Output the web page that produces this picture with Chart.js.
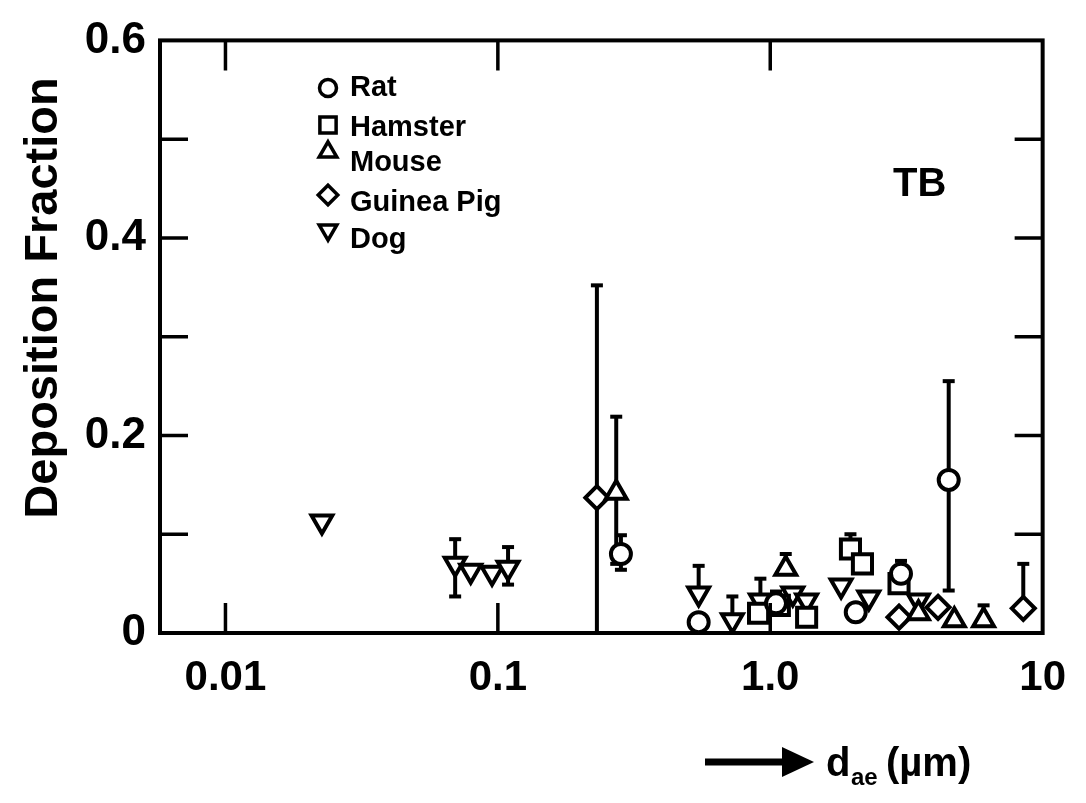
<!DOCTYPE html>
<html>
<head>
<meta charset="utf-8">
<script src="https://cdn.jsdelivr.net/npm/chart.js@4.4.0/dist/chart.umd.min.js"></script>
<style>
  html, body { margin: 0; padding: 0; background: #fff; }
  #wrap { width: 1086px; height: 803px; position: relative; }
</style>
</head>
<body>
<div id="wrap"><canvas id="grafico" width="1086" height="803"></canvas></div>
<script>
// Deposicao traqueobronquica (TB) por especie: diametro aerodinamico (um) e fracao depositada.
// errHi / errLo = extremos da barra de erro (null = sem barra)
const ratX     = [0.283, 0.546, 1.05, 2.06, 3.02, 4.52];
const ratY     = [0.080, 0.011, 0.030, 0.021, 0.060, 0.155];
const ratErrHi = [0.099, null, 0.042, null, 0.073, 0.255];
const ratErrLo = [0.064, null, null, null, null, 0.043];

const hamX     = [0.906, 1.08, 1.36, 1.97, 2.18, 2.97];
const hamY     = [0.020, 0.028, 0.016, 0.085, 0.070, 0.050];
const hamErrHi = [null, null, null, 0.100, null, null];
const hamErrLo = [null, null, null, null, null, null];

const mouseX     = [0.272, 1.14, 3.5, 4.74, 6.07];
const mouseY     = [0.142, 0.065, 0.020, 0.013, 0.013];
const mouseErrHi = [0.219, 0.080, null, null, 0.028];
const mouseErrLo = [0.070, null, null, null, null];

const gpX     = [0.231, 2.97, 4.13, 8.49];
const gpY     = [0.137, 0.016, 0.026, 0.025];
const gpErrHi = [0.352, null, null, 0.070];
const gpErrLo = [0.0, null, null, null];

const dogX     = [0.0226, 0.0697, 0.0795, 0.0952, 0.109, 0.546, 0.726, 0.92, 1.21, 1.36, 1.82, 2.3, 3.5];
const dogY     = [0.113, 0.070, 0.063, 0.061, 0.066, 0.040, 0.013, 0.033, 0.040, 0.033, 0.048, 0.036, 0.033];
const dogErrHi = [null, 0.095, null, null, 0.087, 0.068, 0.037, 0.055, null, null, null, null, null];
const dogErrLo = [null, 0.037, null, null, 0.049, null, null, null, null, null, null, null, null];

const xTickVals  = [0.01, 0.1, 1, 10];
const xTickTexts = ['0.01', '0.1', '1.0', '10'];
const yTickTexts = { '0': '0', '0.2': '0.2', '0.4': '0.4', '0.6': '0.6' };

const FONT = "'Liberation Sans', Arial, Helvetica, sans-serif";

function pontos(xs, ys, hi, lo) {
  return xs.map((x, i) => ({ x, y: ys[i], hi: hi[i], lo: lo[i] }));
}

function serie(label, data, style, radius, rotation) {
  return {
    label, data,
    pointStyle: style, pointRadius: radius, pointRotation: rotation || 0,
    pointBackgroundColor: '#fff', pointBorderColor: '#000', pointBorderWidth: 4,
    pointHoverRadius: radius, showLine: false
  };
}

const datasets = [
  serie('Rat', pontos(ratX, ratY, ratErrHi, ratErrLo), 'circle', 10),
  serie('Hamster', pontos(hamX, hamY, hamErrHi, hamErrLo), 'rect', 13.5),
  serie('Mouse', pontos(mouseX, mouseY, mouseErrHi, mouseErrLo), 'triangle', 12),
  serie('Guinea Pig', pontos(gpX, gpY, gpErrHi, gpErrLo), 'rectRot', 11.5),
  serie('Dog', pontos(dogX, dogY, dogErrHi, dogErrLo), 'triangle', 12, 180)
];

// barras de erro verticais com pequenas travas
const barrasErro = {
  id: 'barrasErro',
  beforeDatasetsDraw(chart) {
    const { ctx, scales: { y } } = chart;
    ctx.save();
    ctx.strokeStyle = '#000';
    ctx.lineWidth = 4;
    chart.data.datasets.forEach((ds, di) => {
      const meta = chart.getDatasetMeta(di);
      ds.data.forEach((p, i) => {
        const el = meta.data[i];
        [p.hi, p.lo].forEach(v => {
          if (v === null || v === undefined) return;
          const py = y.getPixelForValue(v);
          ctx.beginPath();
          ctx.moveTo(el.x, el.y);
          ctx.lineTo(el.x, py);
          ctx.stroke();
          if (v > 0) {
            ctx.beginPath();
            ctx.moveTo(el.x - 6, py);
            ctx.lineTo(el.x + 6, py);
            ctx.stroke();
          }
        });
      });
    });
    ctx.restore();
  }
};

// moldura, marcas internas, legenda e textos
const moldura = {
  id: 'moldura',
  afterDatasetsDraw(chart) {
    const { ctx, chartArea: a, scales: { x, y } } = chart;
    ctx.save();
    ctx.strokeStyle = '#000';
    ctx.lineWidth = 4;
    ctx.strokeRect(a.left, a.top, a.right - a.left, a.bottom - a.top);

    ctx.lineWidth = 3.5;
    const tl = 30;
    xTickVals.forEach(v => {
      const px = x.getPixelForValue(v);
      if (px >= a.right - 2) return;
      ctx.beginPath();
      ctx.moveTo(px, a.bottom); ctx.lineTo(px, a.bottom - tl);
      ctx.moveTo(px, a.top); ctx.lineTo(px, a.top + tl);
      ctx.stroke();
    });
    y.ticks.forEach(t => {
      const py = y.getPixelForValue(t.value);
      if (py <= a.top + 2 || py >= a.bottom - 2) return;
      ctx.beginPath();
      ctx.moveTo(a.left, py); ctx.lineTo(a.left + 28, py);
      ctx.moveTo(a.right, py); ctx.lineTo(a.right - 28, py);
      ctx.stroke();
    });

    // legenda
    const marcaY = [88, 125, 152, 195, 230];
    const textoY = [88, 128, 163, 203, 240];
    ctx.fillStyle = '#000';
    ctx.textBaseline = 'middle';
    ctx.font = 'bold 29px ' + FONT;
    chart.data.datasets.forEach((ds, k) => {
      ctx.save();
      ctx.fillStyle = '#fff';
      ctx.strokeStyle = '#000';
      Chart.helpers.drawPoint(ctx, {
        pointStyle: ds.pointStyle, radius: ds.pointRadius * 0.85,
        rotation: ds.pointRotation, borderWidth: 4
      }, 328, marcaY[k]);
      ctx.restore();
      ctx.fillText(ds.label, 350, textoY[k]);
    });

    // rotulo da regiao
    ctx.font = 'bold 40px ' + FONT;
    ctx.fillText('TB', 893, 185);

    // titulo do eixo y
    ctx.save();
    ctx.translate(44, 298);
    ctx.rotate(-Math.PI / 2);
    ctx.textAlign = 'center';
    ctx.font = 'bold 47px ' + FONT;
    ctx.fillText('Deposition Fraction', 0, 0);
    ctx.restore();

    // seta e d_ae (um)
    ctx.lineWidth = 7;
    ctx.beginPath();
    ctx.moveTo(705, 762); ctx.lineTo(790, 762);
    ctx.stroke();
    ctx.beginPath();
    ctx.moveTo(814, 762); ctx.lineTo(782, 747); ctx.lineTo(782, 777); ctx.closePath();
    ctx.fill();
    ctx.font = 'bold 40px ' + FONT;
    ctx.textBaseline = 'alphabetic';
    ctx.fillText('d', 826, 776);
    ctx.font = 'bold 24px ' + FONT;
    ctx.fillText('ae', 851, 785);
    ctx.font = 'bold 40px ' + FONT;
    ctx.fillText('(\u00b5m)', 886, 776);
    ctx.restore();
  }
};

new Chart(document.getElementById('grafico'), {
  type: 'scatter',
  data: { datasets },
  plugins: [barrasErro, moldura],
  options: {
    responsive: false,
    animation: false,
    layout: { padding: { left: 0, top: 28, right: 19, bottom: 0 } },
    plugins: { legend: { display: false }, tooltip: { enabled: false } },
    scales: {
      x: {
        type: 'logarithmic',
        min: 0.00575, max: 10,
        afterBuildTicks: s => { s.ticks = xTickVals.map(v => ({ value: v })); },
        afterFit: s => { s.height = 170; },
        grid: { display: false, drawTicks: false },
        border: { display: false },
        ticks: {
          autoSkip: false, maxRotation: 0, padding: 20, color: '#000',
          font: { family: FONT, size: 42, weight: 'bold' },
          callback: (v) => xTickTexts[xTickVals.indexOf(v)] ?? ''
        }
      },
      y: {
        min: 0, max: 0.6,
        afterFit: s => { s.width = 160; },
        grid: { display: false, drawTicks: false },
        border: { display: false },
        ticks: {
          stepSize: 0.1, padding: 14, color: '#000',
          font: { family: FONT, size: 44, weight: 'bold' },
          callback: (v) => yTickTexts[String(Math.round(v * 10) / 10)] ?? ''
        }
      }
    }
  }
});
</script>
</body>
</html>
